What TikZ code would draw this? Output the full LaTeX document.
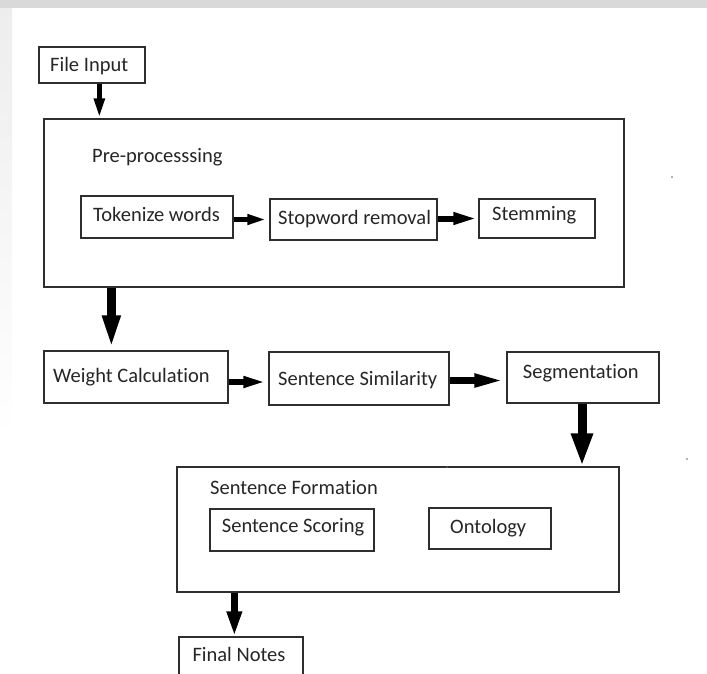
\documentclass[tikz,border=0pt]{standalone}
\usepackage{fontspec}
\setmainfont{Carlito}[Ligatures={NoCommon}]
\usetikzlibrary{arrows.meta,calc}
\begin{document}
\begin{tikzpicture}[x=1pt,y=-1pt,
  box/.style={draw=black!82, line width=1.3pt, rectangle, inner sep=0pt, fill=white},
  lbl/.style={anchor=base west, inner sep=0pt, text=black!85, font=\fontsize{20.5}{24}\selectfont},
  arr/.style n args={3}{draw=black, line width=#1, -{Triangle[width=#2,length=#3]}},
  dot/.style={fill=black!60, circle, inner sep=0pt, minimum size=1.6pt}
]
\useasboundingbox (0,0) rectangle (707,673);
% faint background bands
\fill[black!15] (0,0) rectangle (707,8);
\shade[top color=black!7, bottom color=white] (0,8) rectangle (12,440);

% boxes
\node[box, minimum width=106pt, minimum height=36pt] (fin) at (92,65) {};
\node[box, minimum width=580pt, minimum height=168pt] (pre) at (334,203) {};
\node[box, minimum width=152pt, minimum height=42pt] (tok) at (157,217) {};
\node[box, minimum width=167pt, minimum height=41pt] (stop) at (353.5,219.5) {};
\node[box, minimum width=116pt, minimum height=39pt] (stem) at (537,218.5) {};
\node[box, minimum width=184pt, minimum height=52pt] (wc) at (136,377) {};
\node[box, minimum width=180pt, minimum height=53pt] (ss) at (359,378.5) {};
\node[box, minimum width=152pt, minimum height=51pt] (seg) at (583,377.5) {};
\node[box, minimum width=442pt, minimum height=125pt] (sf) at (398,529.5) {};
\node[box, minimum width=164pt, minimum height=42pt] (scor) at (292,530) {};
\node[box, minimum width=122pt, minimum height=41pt] (ont) at (490,528.5) {};
\node[box, minimum width=124pt, minimum height=50pt] (fn) at (241,662) {};

% labels
\node[lbl] (tfin) at (50,71) {File Input};
\node[lbl] (tpre) at (92,162) {Pre-processsing};
\node[lbl] (ttok) at (93,221) {Tokenize words};
\node[lbl] (tstop) at (278,224) {Stopword removal};
\node[lbl] (tstem) at (492,220) {Stemming};
\node[lbl] (twc) at (53,382) {Weight Calculation};
\node[lbl] (tss) at (278,385.5) {Sentence Similarity};
\node[lbl] (tseg) at (522.7,378.3) {Segmentation};
\node[lbl] (tsf) at (210,494) {Sentence Formation};
\node[lbl] (tscor) at (221.7,532.7) {Sentence Scoring};
\node[lbl] (tont) at (450,533.3) {Ontology};
\node[lbl] (tfn) at (192.3,661.7) {Final Notes};

% connectors
\coordinate (a1) at ([xshift=61pt]fin.south west);
\draw[arr={5pt}{10pt}{20pt}] (a1) -- (a1 |- pre.north);
\draw[arr={5.5pt}{9pt}{22pt}] (tok.east |- stop.west) -- (stop.west);
\draw[arr={6pt}{11pt}{25pt}] (stop.east |- stem.west) -- (stem.west);
\coordinate (a2) at ([xshift=68pt]pre.south west);
\draw[arr={9pt}{16pt}{35pt}] (a2) -- (a2 |- wc.north);
\coordinate (a3) at ([yshift=-5pt]wc.east);
\draw[arr={6pt}{10pt}{25pt}] (a3) -- (a3 -| ss.west);
\coordinate (a4) at ([yshift=-2pt]ss.east);
\draw[arr={7pt}{12pt}{32pt}] (a4) -- (a4 -| seg.west);
\coordinate (a5) at ([xshift=-1pt]seg.south);
\draw[arr={9pt}{20pt}{33pt}] (a5) -- (a5 |- sf.north);
\coordinate (a6) at ([xshift=58pt]sf.south west);
\draw[arr={7pt}{14pt}{25pt}] (a6) -- (a6 |- fn.north);

% stray dots
\node[dot] (d1) at (672,177) {};
\node[dot] (d2) at (687,459) {};
\node[dot] (d3) at (447,467) {};
\end{tikzpicture}
\end{document}
